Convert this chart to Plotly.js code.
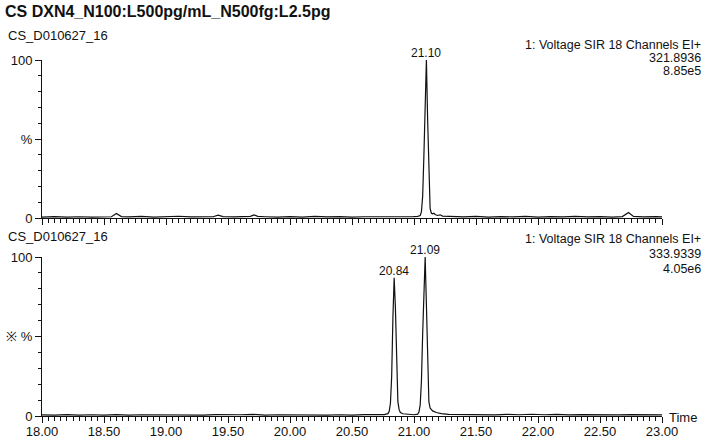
<!DOCTYPE html>
<html>
<head>
<meta charset="utf-8">
<script src="https://cdn.plot.ly/plotly-3.0.1.min.js"></script>
<style>
  html, body { margin: 0; padding: 0; background: #fff; }
  #chart { width: 707px; height: 440px; }
</style>
</head>
<body>
<div id="chart"></div>
<script>
// ---- Data ----
const chartTitle = "CS DXN4_N100:L500pg/mL_N500fg:L2.5pg";
const sampleTop = "CS_D010627_16";
const sampleBottom = "CS_D010627_16";
const channelTop = ["1: Voltage SIR 18 Channels EI+", "321.8936", "8.85e5"];
const channelBottom = ["1: Voltage SIR 18 Channels EI+", "333.9339", "4.05e6"];

const topTime = [18.00,18.10,18.20,18.30,18.40,18.50,18.56,18.60,18.64,18.70,18.80,18.90,19.00,19.10,19.20,19.30,19.38,19.42,19.46,19.55,19.64,19.68,19.71,19.74,19.80,19.90,20.00,20.10,20.20,20.30,20.40,20.50,20.60,20.70,20.80,20.90,20.98,21.03,21.05,21.06,21.07,21.08,21.09,21.10,21.11,21.12,21.13,21.14,21.15,21.16,21.17,21.19,21.21,21.23,21.30,21.40,21.50,21.60,21.70,21.80,21.90,22.00,22.10,22.20,22.30,22.40,22.50,22.60,22.68,22.73,22.77,22.85,22.95,23.00];
const topIntensity = [0.6,0.9,0.5,0.8,0.6,0.9,0.8,2.8,0.9,0.7,1.0,0.6,0.8,1.1,0.7,0.9,0.8,1.8,0.9,0.7,0.6,1.0,2.0,1.0,0.8,0.6,0.9,0.6,1.0,0.7,0.9,0.6,0.8,0.7,1.0,0.7,0.8,1.0,1.5,4,14,40,78,100,62,22,6,3,2.6,3.0,2.2,1.6,2.0,1.2,0.9,0.7,1.0,0.6,0.9,0.7,1.0,0.6,0.9,0.7,1.0,0.7,0.9,0.6,0.9,3.5,1.0,0.7,0.9,0.7];

const bottomTime = [18.00,18.10,18.20,18.30,18.40,18.50,18.60,18.70,18.80,18.90,19.00,19.10,19.20,19.30,19.40,19.50,19.60,19.70,19.80,19.90,20.00,20.10,20.20,20.30,20.40,20.50,20.60,20.70,20.76,20.79,20.80,20.81,20.82,20.83,20.84,20.85,20.86,20.87,20.88,20.89,20.91,20.95,21.00,21.03,21.04,21.05,21.06,21.07,21.08,21.09,21.10,21.11,21.12,21.13,21.15,21.18,21.22,21.28,21.35,21.45,21.55,21.65,21.75,21.85,21.95,22.05,22.15,22.25,22.35,22.45,22.55,22.65,22.75,22.85,22.95,23.00];
const bottomIntensity = [0.7,0.5,0.9,0.6,0.8,0.6,0.9,0.6,0.8,0.7,1.0,0.6,0.8,0.6,0.9,0.7,0.8,1.0,0.6,0.8,0.7,0.6,0.9,0.6,0.8,0.6,0.9,0.7,0.9,1.5,3,8,25,62,87,68,30,9,4,2.2,1.4,1.0,0.8,1.2,2.5,7,22,52,85,100,70,28,9,5,3.2,2.2,1.5,1.0,0.9,0.7,0.9,0.7,1.0,0.8,1.1,0.8,1.0,0.7,0.9,0.7,0.9,0.7,0.9,0.7,0.8,0.7];

const topPeaks = [{t: 21.10, v: 100, label: "21.10"}];
const bottomPeaks = [{t: 21.09, v: 100, label: "21.09"}, {t: 20.84, v: 87, label: "20.84"}];

const xTickVals = [18.0,18.5,19.0,19.5,20.0,20.5,21.0,21.5,22.0,22.5,23.0];
const xTickText = ["18.00","18.50","19.00","19.50","20.00","20.50","21.00","21.50","22.00","22.50","23.00"];
const yTickVals = [0, 50, 100];
const yTickTextTop = ["0", "%", "100"];
const yTickTextBottom = ["0", "※ %", "100"];

// ---- Plot ----
const FONT = "Liberation Sans, Arial, sans-serif";
const lineStyle = {color: "#111", width: 1.2};

const traces = [
  {x: topTime, y: topIntensity, xaxis: "x", yaxis: "y", type: "scatter", mode: "lines", line: lineStyle, hoverinfo: "skip"},
  {x: bottomTime, y: bottomIntensity, xaxis: "x2", yaxis: "y2", type: "scatter", mode: "lines", line: lineStyle, hoverinfo: "skip"}
];

function xAxis(showLabels, anchor) {
  return {
    range: [18, 23], anchor: anchor, showgrid: false, zeroline: false,
    showline: true, linecolor: "#111", linewidth: 1,
    tickmode: "array", tickvals: xTickVals, ticktext: xTickText,
    showticklabels: showLabels, ticklabelstandoff: -3,
    ticks: "outside", ticklen: 6, tickcolor: "#111", tickwidth: 1,
    minor: {dtick: 0.05, tick0: 18, ticks: "outside", ticklen: 4, tickcolor: "#111", tickwidth: 1},
    tickfont: {family: FONT, size: 13, color: "#111"}
  };
}
function yAxis(domain, ticktext, anchor) {
  return {
    domain: domain, range: [0, 100], anchor: anchor, showgrid: false, zeroline: false,
    showline: true, linecolor: "#111", linewidth: 1,
    tickmode: "array", tickvals: yTickVals, ticktext: ticktext,
    ticks: "outside", ticklen: 6, tickcolor: "#111", tickwidth: 1,
    minor: {dtick: 10, tick0: 0, ticks: "outside", ticklen: 3, tickcolor: "#111", tickwidth: 1},
    tickfont: {family: FONT, size: 13, color: "#111"}
  };
}

// paper-coordinate helpers from pixel positions
const L = 42, R = 45, T = 60, B = 24, W = 707, H = 440;
const pw = W - L - R, ph = H - T - B;
const px = p => (p - L) / pw;
const py = p => (H - B - p) / ph;

const annotations = [];
function txt(text, x, y, xanchor, size, bold) {
  annotations.push({
    text: bold ? "<b>" + text + "</b>" : text,
    xref: "paper", yref: "paper", x: px(x), y: py(y),
    xanchor: xanchor, yanchor: "middle", showarrow: false, borderpad: 0,
    font: {family: FONT, size: size, color: "#111"}
  });
}
txt(chartTitle, 4, 11, "left", 16, true);
txt(sampleTop, 7, 35, "left", 13, false);
txt(sampleBottom, 7, 236, "left", 13, false);
txt(channelTop[0], 702, 45, "right", 12.5, false);
txt(channelTop[1], 702, 58, "right", 12.5, false);
txt(channelTop[2], 702, 71, "right", 12.5, false);
txt(channelBottom[0], 702, 239, "right", 12.5, false);
txt(channelBottom[1], 702, 254, "right", 12.5, false);
txt(channelBottom[2], 702, 269, "right", 12.5, false);
txt("Time", 668, 417, "left", 13, false);

topPeaks.forEach(p => annotations.push({
  text: p.label, x: p.t, y: p.v, xref: "x", yref: "y", xanchor: "center", yanchor: "bottom",
  showarrow: false, yshift: -2, font: {family: FONT, size: 12, color: "#111"}
}));
bottomPeaks.forEach(p => annotations.push({
  text: p.label, x: p.t, y: p.v, xref: "x2", yref: "y2", xanchor: "center", yanchor: "bottom",
  showarrow: false, yshift: -2, font: {family: FONT, size: 12, color: "#111"}
}));

const topDomain = [py(218), 1];
const bottomDomain = [0, py(257)];

const layout = {
  width: W, height: H,
  margin: {l: L, r: R, t: T, b: B, pad: 0},
  paper_bgcolor: "#fff", plot_bgcolor: "#fff",
  showlegend: false,
  font: {family: FONT, color: "#111"},
  xaxis: xAxis(false, "y"),
  yaxis: yAxis(topDomain, yTickTextTop, "x"),
  xaxis2: xAxis(true, "y2"),
  yaxis2: yAxis(bottomDomain, yTickTextBottom, "x2"),
  annotations: annotations
};

Plotly.newPlot("chart", traces, layout, {staticPlot: true, displayModeBar: false});
</script>
</body>
</html>
